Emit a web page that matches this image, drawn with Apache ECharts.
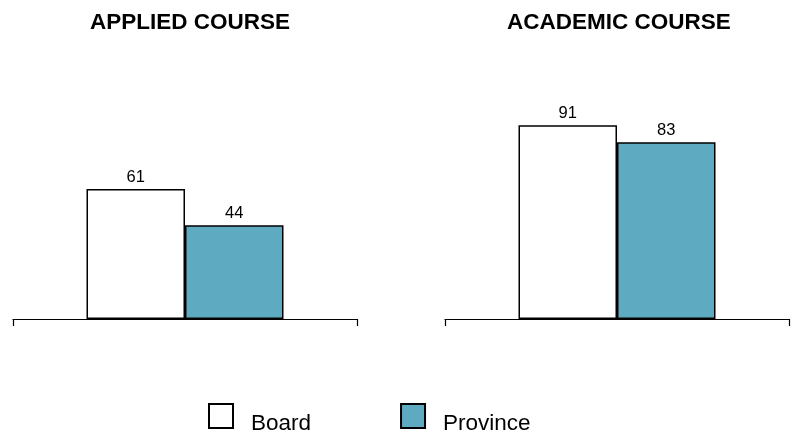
<!DOCTYPE html>
<html><head><meta charset="utf-8">
<script src="https://cdn.jsdelivr.net/npm/echarts@6/dist/echarts.min.js"></script>
<style>html,body{margin:0;padding:0;background:#fff}#c{width:796px;height:435px}</style>
</head><body><div id="c"></div>
<script>
var panels = ["APPLIED COURSE", "ACADEMIC COURSE"];
var seriesNames = ["Board", "Province"];
var board = [61, 91];
var province = [44, 83];

var colors = {Board: "#ffffff", Province: "#5eaac1"};
var font = "Liberation Sans, Arial, sans-serif";
var grids = [
  {left: 13, width: 344, top: 106, height: 213},
  {left: 445, width: 344, top: 106, height: 213}
];
var titleCenters = [185, 614];
var option = {
  animation: false,
  backgroundColor: "#fff",
  title: panels.map(function (p, i) {
    return {text: p, left: titleCenters[i], top: 6, textAlign: "center",
      textStyle: {fontFamily: font, fontWeight: "bold", fontSize: 22.5, color: "#000"}};
  }),
  legend: {
    data: seriesNames, left: 203, top: 398, icon: "rect", itemWidth: 24, itemHeight: 24,
    itemGap: 89,
    itemStyle: {borderColor: "#000", borderWidth: 2},
    formatter: "{s|}{t|{name}}",
    textStyle: {fontFamily: font, fontSize: 22.5, color: "#000", padding: [0, 0, 0, 13],
      rich: {
        s: {height: 38, width: 0},
        t: {fontFamily: font, fontSize: 22.5, color: "#000", lineHeight: 24, verticalAlign: "bottom"}
      }}
  },
  grid: grids,
  xAxis: grids.map(function (g, i) {
    return {type: "category", gridIndex: i, data: [panels[i]], boundaryGap: true,
      axisLine: {lineStyle: {color: "#000", width: 1.2}},
      axisTick: {show: true, length: 7, lineStyle: {color: "#000", width: 1.2}},
      axisLabel: {show: false}};
  }),
  yAxis: grids.map(function (g, i) {
    return {type: "value", gridIndex: i, min: 0, max: 100, show: false, splitLine: {show: false}};
  }),
  series: []
};
[board, province].forEach(function (vals, s) {
  panels.forEach(function (p, i) {
    option.series.push({
      type: "bar", name: seriesNames[s], xAxisIndex: i, yAxisIndex: i,
      data: [vals[i]], barWidth: 98.5, barGap: "0%",
      itemStyle: {color: colors[seriesNames[s]], borderColor: "#000", borderWidth: 1.5},
      label: {show: true, position: "top", distance: 3, color: "#000", fontFamily: font, fontSize: 16.5}
    });
  });
});
var chart = echarts.init(document.getElementById("c"), null, {renderer: "canvas"});
chart.setOption(option);
</script></body></html>
